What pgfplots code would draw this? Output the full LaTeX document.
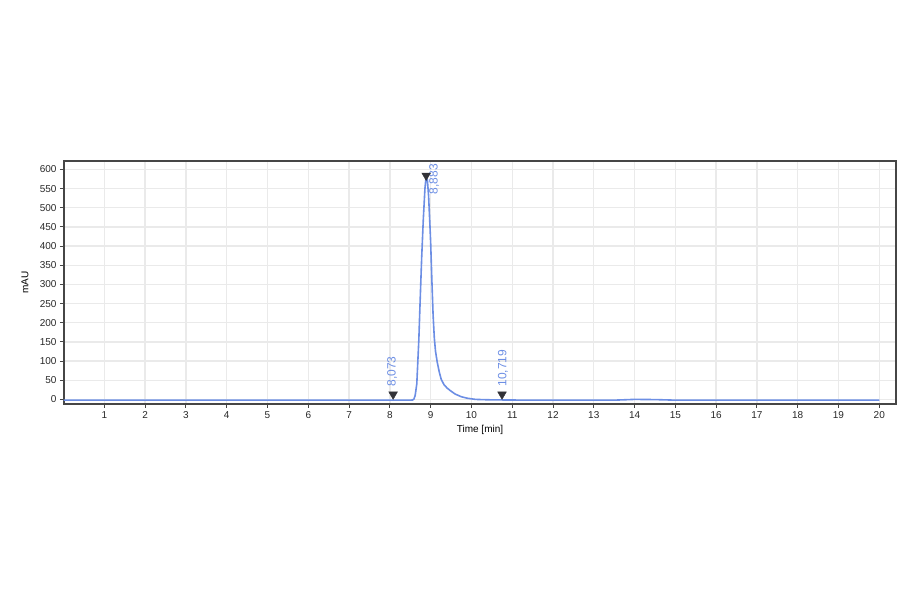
\documentclass[border=0pt]{standalone}
\usepackage{fontspec}
\setmainfont{Liberation Sans}
\usepackage{pgfplots}
\pgfplotsset{compat=1.18}

\definecolor{trace}{RGB}{108,142,228}
\definecolor{gridgray}{RGB}{234,234,234}
\definecolor{framegray}{RGB}{70,70,70}
\definecolor{labelgray}{RGB}{40,40,40}
\definecolor{markgray}{RGB}{50,50,55}

\begin{document}
\begin{tikzpicture}[x=1pt,y=1pt]
\path[use as bounding box] (0,0) rectangle (900,594);
\begin{axis}[
  at={(64pt,190pt)}, anchor=south west,
  scale only axis, width=832pt, height=243pt,
  xmin=0.01, xmax=20.41,
  ymin=-12, ymax=622,
  xtick={1,...,20},
  ytick={0,50,...,600},
  xtick pos=bottom, ytick pos=left,
  tick align=outside,
  major tick length=4pt,
  grid=major,
  major grid style={draw=gridgray, line width=1.4pt},
  axis line style={draw=framegray, line width=1.6pt},
  tick style={draw=framegray, line width=1pt},
  ticklabel style={font=\fontsize{10}{12}\selectfont, text=labelgray},
  /pgf/number format/assume math mode=true,
  xlabel={Time [min]},
  ylabel={mAU},
  label style={font=\fontsize{11.5}{13}\selectfont, text=labelgray},
  every axis x label/.style={at={(axis description cs:0.5,-0.107)}, anchor=center},
  every axis y label/.style={at={(axis description cs:-0.047,0.5)}, rotate=90, anchor=center},
  clip=false,
]

% chromatogram trace
\addplot[trace, line width=1.6pt, line join=round] coordinates {
  (0,-2) (4,-2) (8.0,-2) (8.50,-2) (8.56,-1.5) (8.59,1) (8.62,10) (8.66,40)
  (8.71,155) (8.74,250) (8.78,370) (8.82,470) (8.86,550) (8.89,582)
  (8.92,572) (8.95,530) (8.98,460) (9.00,410) (9.03,310) (9.06,220)
  (9.09,160) (9.12,125) (9.16,98) (9.21,72) (9.26,52) (9.33,38)
  (9.40,30) (9.48,23) (9.60,14) (9.75,7) (9.90,3) (10.1,0) (10.4,-1)
  (10.8,-1.5) (11.5,-2) (13.5,-2) (14.0,0) (14.5,-0.5) (15,-2) (20,-2)
};

% peak markers
\addplot[only marks, mark=triangle*, mark size=5pt,
  mark options={rotate=180, fill=markgray, draw=markgray}]
  coordinates {(8.08,13) (8.89,584) (10.75,13)};

\node[rotate=90, anchor=west, text=trace, font=\fontsize{12}{14}\selectfont]
  at (axis cs:8.06,24) {8,073};
\node[rotate=90, anchor=west, text=trace, font=\fontsize{12}{14}\selectfont]
  at (axis cs:9.09,526) {8,883};
\node[rotate=90, anchor=west, text=trace, font=\fontsize{12}{14}\selectfont]
  at (axis cs:10.77,24) {10,719};

\end{axis}
\end{tikzpicture}
\end{document}
